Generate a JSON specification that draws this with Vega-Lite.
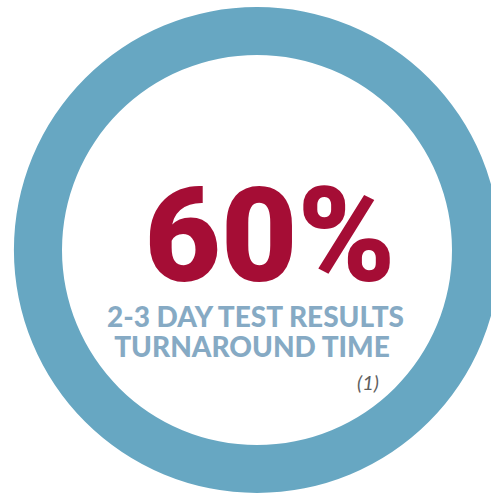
{
  "$schema": "https://vega.github.io/schema/vega-lite/v6.json",
  "width": 491,
  "height": 494,
  "autosize": {"type": "fit", "contains": "padding"},
  "padding": {"left": 23, "top": 6, "right": 0, "bottom": 0},
  "background": "white",
  "config": {"view": {"stroke": null}},
  "layer": [
    {
      "data": {"values": [{"segment": "turnaround", "value": 100}]},
      "mark": {"type": "arc", "innerRadius": 195, "outerRadius": 243, "color": "#67a7c2"},
      "encoding": {"theta": {"field": "value", "type": "quantitative"}}
    },
    {
      "data": {"values": [{"label": "60%"}]},
      "mark": {"type": "text", "font": "Roboto", "fontWeight": 900, "fontSize": 132, "color": "#a50d35", "align": "center", "baseline": "alphabetic", "dx": 13, "dy": 31},
      "encoding": {"text": {"field": "label"}}
    },
    {
      "data": {"values": [{"label": "2-3 DAY TEST RESULTS"}]},
      "mark": {"type": "text", "font": "Lato", "fontWeight": 900, "fontSize": 28, "color": "#86aac4", "align": "center", "baseline": "alphabetic", "dx": -1.5, "dy": 77},
      "encoding": {"text": {"field": "label"}}
    },
    {
      "data": {"values": [{"label": "TURNAROUND TIME"}]},
      "mark": {"type": "text", "font": "Lato", "fontWeight": 900, "fontSize": 28, "color": "#86aac4", "align": "center", "baseline": "alphabetic", "dx": -5, "dy": 107},
      "encoding": {"text": {"field": "label"}}
    },
    {
      "data": {"values": [{"label": "(1)"}]},
      "mark": {"type": "text", "font": "Lato", "fontStyle": "italic", "fontSize": 20, "color": "#5f5f5f", "align": "center", "baseline": "alphabetic", "dx": 111, "dy": 140},
      "encoding": {"text": {"field": "label"}}
    }
  ]
}
